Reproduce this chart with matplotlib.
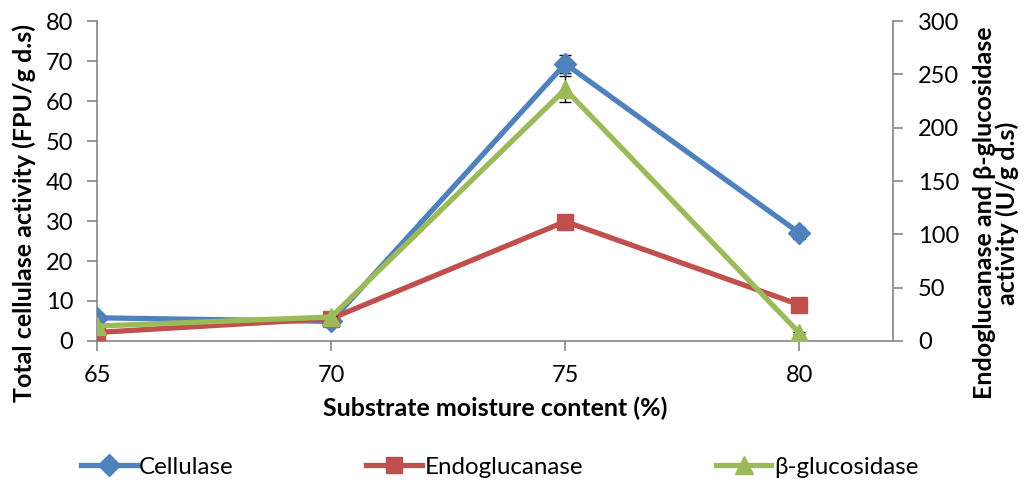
import matplotlib
matplotlib.use("Agg")
import matplotlib.pyplot as plt
from matplotlib.lines import Line2D

plt.rcParams['font.family'] = ['Lato', 'DejaVu Sans']

# Data
moisture = [65, 70, 75, 80]
cellulase = [5.8, 4.9, 69.3, 27.0]          # FPU/g d.s (left axis)
cellulase_err = [0.4, 0.3, 2.3, 1.5]
endoglucanase = [8.0, 21.0, 112.0, 34.0]     # U/g d.s (right axis)
endoglucanase_err = [0.5, 0.5, 1.0, 1.0]
glucosidase = [14.0, 22.5, 236.0, 7.5]       # U/g d.s (right axis)
glucosidase_err = [0.8, 0.5, 12.0, 1.0]

blue = '#4F81BD'
red = '#C0504D'
green = '#9BBB59'
grey = '#868686'

tick_fs = 17
label_fs = 18

fig = plt.figure(figsize=(10.28, 4.83), dpi=100)
ax = fig.add_axes([0.0944, 0.294, 0.7743, 0.6625])
ax2 = ax.twinx()

lw = 3.8
ax.errorbar(moisture, cellulase, yerr=cellulase_err, color=blue, lw=lw,
            marker='D', ms=11.5, ecolor='black', elinewidth=1, capsize=4,
            capthick=1, zorder=3)
ax2.errorbar(moisture, endoglucanase, yerr=endoglucanase_err, color=red, lw=lw,
             marker='s', ms=11, ecolor='black', elinewidth=1, capsize=4,
             capthick=1, zorder=3)
ax2.errorbar(moisture, glucosidase, yerr=glucosidase_err, color=green, lw=lw,
             marker='^', ms=13, ecolor='black', elinewidth=1, capsize=4,
             capthick=1, zorder=4)

ax.set_xlim(65, 82)
ax.set_ylim(0, 80)
ax2.set_ylim(0, 300)
ax.set_xticks(moisture)
ax.set_yticks(range(0, 81, 10))
ax2.set_yticks(range(0, 301, 50))

for a in (ax, ax2):
    a.spines['top'].set_visible(False)
    for s in ('left', 'right', 'bottom'):
        a.spines[s].set_color(grey)
        a.spines[s].set_linewidth(1.2)
    a.tick_params(colors='black', labelsize=tick_fs, length=7, width=1.2,
                  color=grey, direction='out')
ax.spines['right'].set_visible(False)
ax2.spines['left'].set_visible(False)
ax2.spines['bottom'].set_visible(False)
ax.tick_params(axis='x', pad=10)
ax.tick_params(axis='y', pad=10)
ax2.tick_params(axis='y', pad=11)

ax.set_xlabel('Substrate moisture content (%)', fontsize=label_fs,
              fontweight='bold', labelpad=8)
ax.set_ylabel('Total cellulase activity (FPU/g d.s)', fontsize=label_fs,
              fontweight='bold')
ax.yaxis.set_label_coords(-0.077, 0.40)
ax2.set_ylabel('Endoglucanase and β-glucosidase\nactivity (U/g d.s)',
               fontsize=label_fs, fontweight='bold', rotation=90,
               linespacing=1.0)
ax2.yaxis.set_label_coords(1.100, 0.40)

handles = [
    Line2D([], [], color=blue, lw=lw, marker='D', ms=11.5),
    Line2D([], [], color=red, lw=lw, marker='s', ms=11),
    Line2D([], [], color=green, lw=lw, marker='^', ms=13),
]
labels = ['Cellulase', 'Endoglucanase', 'β-glucosidase']
fig.legend(handles, labels, loc='center', bbox_to_anchor=(0.486, 0.033),
           ncol=3, frameon=False, fontsize=17.4, handlelength=2.3,
           handletextpad=0.1, columnspacing=5.5)

fig.savefig('out.png', dpi=100)
